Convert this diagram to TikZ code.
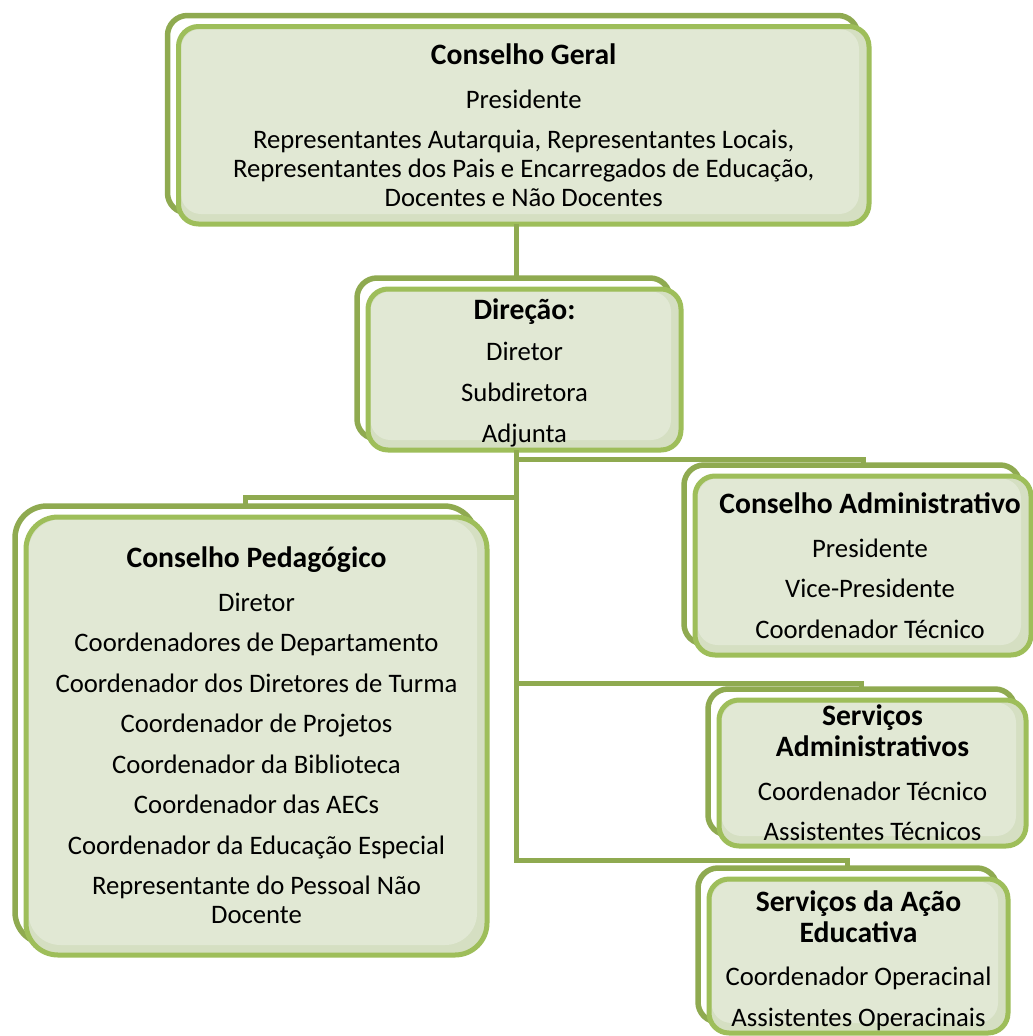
\documentclass[tikz,border=0pt]{standalone}
\usepackage{fontspec}
\setmainfont{Carlito}
\usetikzlibrary{shadows}
\definecolor{gdark}{HTML}{8FAA50}
\definecolor{glight}{HTML}{9EBE5A}
\definecolor{gfill}{HTML}{E1E8D4}
\definecolor{grim}{HTML}{D5DFC2}
\newcommand\ttl[1]{{\fontsize{29.6}{30}\selectfont\bfseries #1}}
\newcommand\firstline{\rule{0pt}{24pt}}
\tikzset{
  backbox/.style={draw=gdark, line width=5.5pt, fill=white, inner sep=0pt, outer sep=0pt,
    drop shadow={shadow xshift=-1.5pt, shadow yshift=-2pt, opacity=0.18, fill=black}},
  frontbox/.style={fill=grim, inner sep=0pt, outer sep=0pt},
  frontline/.style={draw=glight, line width=5pt},
  link/.style={draw=gdark, line width=5pt},
  txt/.style={align=center, inner sep=0pt, anchor=north, font=\fontsize{26.7}{29}\selectfont},
}
% name, x1, y1, x2, y2, radius (front box, border centre line)
\newcommand\orgbox[6]{%
  \node[backbox, rounded corners=#6, minimum width={#4-#2}, minimum height={#5-#3}]
    (#1b) at ({(#2+#4)/2-11},{(#3+#5)/2-11}) {};
  \node[frontbox, rounded corners=#6, minimum width={#4-#2}, minimum height={#5-#3}]
    (#1) at ({(#2+#4)/2},{(#3+#5)/2}) {};
  \fill[gfill, rounded corners=#6] (#2+2.5,#3+2.5) rectangle (#4-10,#5-10);
  \draw[frontline, rounded corners=#6] (#2,#3) rectangle (#4,#5);
}
\begin{document}
\begin{tikzpicture}[x=1pt,y=-1pt]
\useasboundingbox (0,0) rectangle (1033,1036);
\fill[white] (0,0) rectangle (1033,1036);
\clip (0,0) rectangle (1033,1036);

\orgbox{cg}{178.5}{26.5}{869}{224}{20}
\orgbox{dir}{368}{289}{681}{450}{20}
\orgbox{cp}{26}{517}{487}{955}{32}
\orgbox{ca}{695}{476}{1031}{655}{20}
\orgbox{sad}{719}{700}{1026}{846}{20}
\orgbox{sae}{709}{879}{1008}{1033}{20}

\coordinate (tx) at (516,0);
\coordinate (j1) at (0,459);
\coordinate (j2) at (0,497);
\coordinate (j3) at (0,683);
\coordinate (j4) at (0,860);

\draw[link] (tx |- cg.south) -- (tx |- dirb.north);
\draw[link] (tx |- dir.south) -- (tx |- j4) -| (saeb.north);
\draw[link] (tx |- j1) -| (ca.north |- cab.north);
\draw[link] (tx |- j2) -| (cpb.north);
\draw[link] (tx |- j3) -| (sadb.north);

\node[txt] (cgt) at (523.7,40) {\firstline\ttl{Conselho Geral}\\[15pt]
  Presidente\\[11pt]
  Representantes Autarquia, Representantes Locais,\\
  Representantes dos Pais e Encarregados de Educação,\\
  Docentes e Não Docentes};

\node[txt] (dirt) at (524.5,295) {\firstline\ttl{Direção:}\\[12pt]
  Diretor\\[12pt]Subdiretora\\[12pt]Adjunta};

\node[txt] (cpt) at (256.5,543) {\firstline\ttl{Conselho Pedagógico}\\[15pt]
  Diretor\\[11.5pt]
  Coordenadores de Departamento\\[11.5pt]
  Coordenador dos Diretores de Turma\\[11.5pt]
  Coordenador de Projetos\\[11.5pt]
  Coordenador da Biblioteca\\[11.5pt]
  Coordenador das AECs\\[11.5pt]
  Coordenador da Educação Especial\\[11.5pt]
  Representante do Pessoal Não\\
  Docente};

\node[txt] (cat) at (870,489) {\firstline\ttl{Conselho Administrativo}\\[15pt]
  Presidente\\[11.5pt]Vice-Presidente\\[11.5pt]Coordenador Técnico};

\node[txt] (sadt) at (872.5,701) {\firstline\ttl{Serviços}\\[2pt]
  \ttl{Administrativos}\\[15pt]
  Coordenador Técnico\\[11.5pt]Assistentes Técnicos};

\node[txt] (saet) at (858.5,887) {\firstline\ttl{Serviços da Ação}\\[2pt]
  \ttl{Educativa}\\[14pt]
  Coordenador Operacinal\\[12pt]Assistentes Operacinais};
\end{tikzpicture}
\end{document}
